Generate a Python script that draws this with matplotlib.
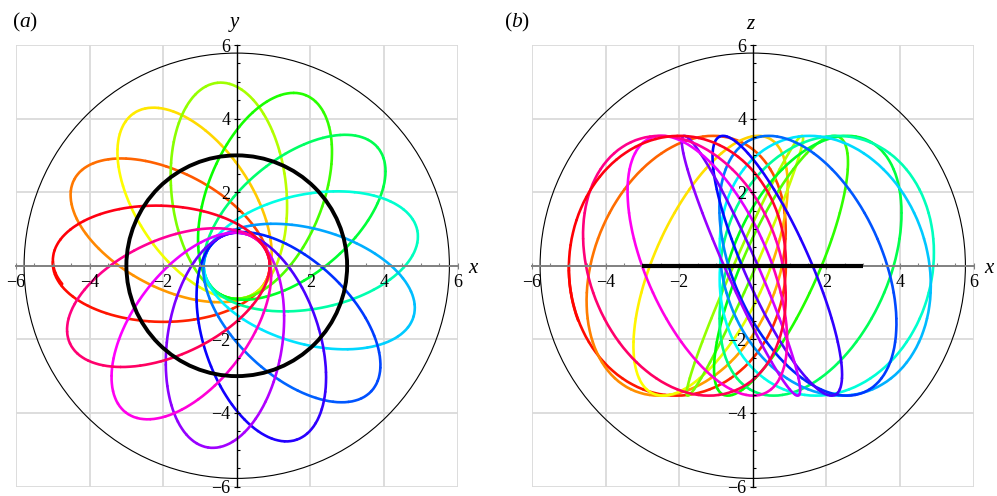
import numpy as np
import matplotlib
matplotlib.use("Agg")
import matplotlib.pyplot as plt
from matplotlib.patches import Arc, Circle
from matplotlib.transforms import Affine2D
from matplotlib.ticker import FixedLocator, MultipleLocator
from matplotlib.colors import hsv_to_rgb

plt.rcParams['font.family'] = ['Liberation Serif', 'DejaVu Serif']
plt.rcParams['mathtext.fontset'] = 'custom'
plt.rcParams['mathtext.rm'] = 'Liberation Serif'
plt.rcParams['mathtext.it'] = 'Liberation Serif:italic'

# apocentre direction of each successive loop of the orbit (deg, x-y plane)
loop_angle = [179, 152, 124, 96, 68, 40, 11, -16, -43, -71, -99, -127, -155, -182]
r_apo = 5.0            # outer turning radius in x-y
r_peri = 0.9           # inner turning radius in x-y
loop_halfwidth = 1.56  # half-width of a loop across its long axis
z_amp = 3.53           # vertical excursion
t_start, t_end = 0.0, 25.0  # phase (deg) where the first loop starts / the last one stops

r_bound = 5.78   # thin outer circle
r_ring = 3.0     # thick ring (seen edge-on in x-z)

tick_vals = [-6, -4, -2, 2, 4, 6]
grid_vals = [-6, -4, -2, 2, 4, 6]

n_loops = len(loop_angle) - 1   # hue goes once round over the whole orbit


def loop_matrix(phi, view):
    a = 0.5 * (r_apo + r_peri)
    d = 0.5 * (r_apo - r_peri)
    b = loop_halfwidth
    c, s = np.cos(np.radians(phi)), np.sin(np.radians(phi))
    if view == "xy":
        return np.array([[a * c, -b * s, d * c], [a * s, b * c, d * s], [0, 0, 1]])
    return np.array([[a * c, -b * s, d * c], [0, -z_amp, 0], [0, 0, 1]])


def draw_orbit(ax, view):
    for k, phi in enumerate(loop_angle):
        t0 = t_start if k == 0 else -180.0
        t1 = t_end if k == n_loops else 180.0
        tr = Affine2D(loop_matrix(phi, view)) + ax.transData
        nseg = int(np.ceil((t1 - t0) / 12.0))
        edges = np.linspace(t0, t1, nseg + 1)
        for th1, th2 in zip(edges[:-1], edges[1:]):
            hue = ((k + 0.5 * (th1 + th2) / 360.0) / n_loops) % 1.0
            ax.add_patch(Arc((0, 0), 2, 2, theta1=th1, theta2=th2, transform=tr,
                             edgecolor=hsv_to_rgb((hue, 1, 1)), lw=1.9,
                             capstyle="round", zorder=2))


def style_axes(ax, hlabel, vlabel):
    ax.set_xlim(-6, 6)
    ax.set_ylim(-6, 6)
    for side in ("top", "right"):
        ax.spines[side].set_visible(False)
    ax.spines["left"].set_position("zero")
    ax.spines["bottom"].set_position("zero")
    ax.spines["bottom"].set_color("#808080")
    ax.spines["bottom"].set_linewidth(1.4)
    ax.spines["left"].set_color("black")
    ax.spines["left"].set_linewidth(1.0)
    ax.spines["left"].set_zorder(5)
    ax.spines["bottom"].set_zorder(5)
    for axis in (ax.xaxis, ax.yaxis):
        axis.set_major_locator(FixedLocator(tick_vals))
        axis.set_minor_locator(MultipleLocator(0.5))
    ax.tick_params(which="major", direction="inout", length=5, width=0.8,
                   labelsize=13)
    ax.tick_params(axis="x", which="major", pad=3.5)
    ax.tick_params(axis="y", which="major", pad=2.0)
    ax.tick_params(which="minor", direction="in", length=2.2, width=0.8)
    ax.tick_params(axis="x", which="both", color="#808080")
    # tick labels sit above the curves, the grid stays underneath
    ax.set_axisbelow(False)
    for g in grid_vals:
        ax.axvline(g, color="#dadada", lw=1.3, zorder=0.5)
        ax.axhline(g, color="#dadada", lw=1.3, zorder=0.5)
    ax.add_patch(Circle((0, 0), r_bound, fill=False, edgecolor="black", lw=0.8, zorder=1))
    ax.text(6.45, -0.08, hlabel, fontsize=15, ha="center", va="center", clip_on=False)
    ax.text(-0.05, 6.55, vlabel, fontsize=15, ha="center", va="center", clip_on=False)


fig = plt.figure(figsize=(9.97, 4.96), dpi=100)
ax_a = fig.add_axes([16 / 997, 9.5 / 496, 441.5 / 997, 441.5 / 496])
ax_b = fig.add_axes([532 / 997, 9.5 / 496, 441.5 / 997, 441.5 / 496])

style_axes(ax_a, "$x$", "$y$")
draw_orbit(ax_a, "xy")
ax_a.add_patch(Circle((0, 0), r_ring, fill=False, edgecolor="black", lw=2.8, zorder=6))

style_axes(ax_b, "$x$", "$z$")
draw_orbit(ax_b, "xz")
ax_b.plot([-r_ring, r_ring], [0, 0], color="black", lw=3.0, solid_capstyle="butt", zorder=6)

fig.text(12 / 997, 1 - 22.5 / 496, "($a$)", fontsize=15.5, ha="left", va="center")
fig.text(504 / 997, 1 - 22.5 / 496, "($b$)", fontsize=15.5, ha="left", va="center")

fig.savefig("out.png", dpi=100)
